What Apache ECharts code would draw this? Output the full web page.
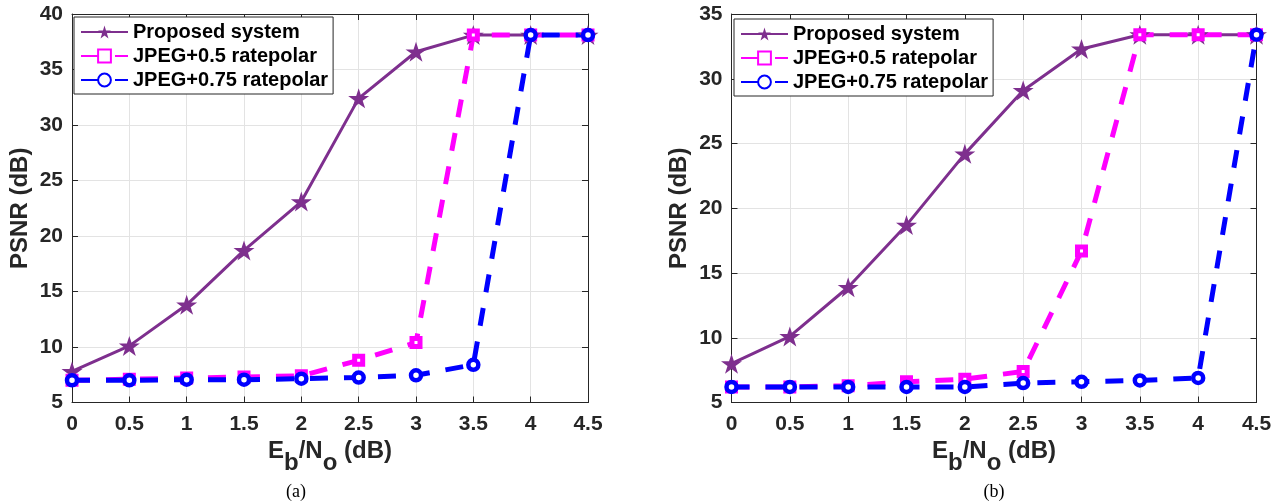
<!DOCTYPE html>
<html>
<head>
<meta charset="utf-8">
<script src="https://cdn.jsdelivr.net/npm/echarts@6/dist/echarts.min.js"></script>
<style>
  html, body { margin: 0; padding: 0; background: #fff; }
  #main { width: 1284px; height: 504px; }
</style>
</head>
<body>
<div id="main"></div>
<script type="text/javascript">
// Eb/No (dB) values on the x axis
var ebno = [0, 0.5, 1, 1.5, 2, 2.5, 3, 3.5, 4, 4.5];
var seriesNames = ['Proposed system', 'JPEG+0.5 ratepolar', 'JPEG+0.75 ratepolar'];

// panel (a)
var aProposed = [7.8, 10.1, 13.8, 18.7, 23.1, 32.4, 36.6, 38.1, 38.1, 38.1];
var aJpeg05   = [7.0, 7.1, 7.2, 7.3, 7.4, 8.8, 10.4, 38.1, 38.1, 38.1];
var aJpeg075  = [7.0, 7.0, 7.05, 7.05, 7.15, 7.25, 7.45, 8.4, 38.1, 38.1];

// panel (b)
var bProposed = [8.0, 10.1, 13.9, 18.7, 24.2, 29.1, 32.3, 33.4, 33.4, 33.4];
var bJpeg05   = [6.2, 6.2, 6.3, 6.6, 6.8, 7.4, 16.7, 33.4, 33.4, 33.4];
var bJpeg075  = [6.2, 6.2, 6.2, 6.2, 6.2, 6.5, 6.6, 6.7, 6.9, 33.4];

var yTicksA = {min: 5, max: 40, interval: 5};
var yTicksB = {min: 5, max: 35, interval: 5};

var FONT = '"Liberation Sans", Arial, sans-serif';
var INK = '#262626';
var STAR = 'path://M0,-10 L2.245,-3.09 L9.51,-3.09 L3.633,1.18 L5.88,8.09 L0,3.82 L-5.88,8.09 L-3.633,1.18 L-9.51,-3.09 L-2.245,-3.09 Z';

function pairs(ys) {
  return ebno.map(function (x, i) { return [x, ys[i]]; });
}

var dom = document.getElementById('main');
var myChart = echarts.init(dom);

var titleRich = {
  a: {fontSize: 24, fontWeight: 'bold', fontFamily: FONT, color: INK, padding: [0, 0, 12, 0], verticalAlign: 'bottom'},
  s: {fontSize: 24, fontWeight: 'bold', fontFamily: FONT, color: INK, verticalAlign: 'bottom'}
};

function xAxisPair(gi) {
  var common = {
    type: 'value', gridIndex: gi, min: 0, max: 4.5, interval: 0.5,
    axisLine: {show: true, onZero: false, lineStyle: {color: INK, width: 1}},
    axisTick: {show: true, inside: true, length: 6, lineStyle: {color: INK}}
  };
  var bottom = Object.assign({}, common, {
    position: 'bottom',
    axisLabel: {color: INK, fontSize: 21, fontWeight: 'bold', fontFamily: FONT, margin: 11},
    splitLine: {show: true, lineStyle: {color: '#e3e3e3', width: 1}},
    name: '{a|E}{s|b}{a|/N}{s|o}{a| (dB)}',
    nameLocation: 'middle',
    nameGap: 37,
    nameTextStyle: {rich: titleRich}
  });
  var top = Object.assign({}, common, {
    position: 'top', axisLabel: {show: false}, splitLine: {show: false}
  });
  return [bottom, top];
}

function yAxisPair(gi, t) {
  var common = {
    type: 'value', gridIndex: gi, min: t.min, max: t.max, interval: t.interval,
    axisLine: {show: true, onZero: false, lineStyle: {color: INK, width: 1}},
    axisTick: {show: true, inside: true, length: 6, lineStyle: {color: INK}}
  };
  var left = Object.assign({}, common, {
    position: 'left',
    axisLabel: {color: INK, fontSize: 21, fontWeight: 'bold', fontFamily: FONT, margin: 9},
    splitLine: {show: true, lineStyle: {color: '#e3e3e3', width: 1}},
    name: 'PSNR (dB)',
    nameLocation: 'middle',
    nameGap: 40,
    nameTextStyle: {color: INK, fontSize: 24, fontWeight: 'bold', fontFamily: FONT}
  });
  var right = Object.assign({}, common, {
    position: 'right', axisLabel: {show: false}, splitLine: {show: false}
  });
  return [left, right];
}

function panelSeries(axisIdx, prop, j05, j075) {
  return [{
    name: seriesNames[0], type: 'line', xAxisIndex: axisIdx, yAxisIndex: axisIdx,
    data: pairs(prop), color: '#7E2F8E',
    lineStyle: {color: '#7E2F8E', width: 3},
    symbol: STAR, symbolSize: 21, symbolKeepAspect: true,
    itemStyle: {color: '#7E2F8E', borderWidth: 0}
  }, {
    name: seriesNames[1], type: 'line', xAxisIndex: axisIdx, yAxisIndex: axisIdx,
    data: pairs(j05), color: '#FF00FF',
    lineStyle: {color: '#FF00FF', width: 5, type: [18, 16]},
    symbol: 'rect', symbolSize: 8, showAllSymbol: true,
    itemStyle: {color: '#FFFFFF', borderColor: '#FF00FF', borderWidth: 5}
  }, {
    name: seriesNames[2], type: 'line', xAxisIndex: axisIdx, yAxisIndex: axisIdx,
    data: pairs(j075), color: '#0000FF',
    lineStyle: {color: '#0000FF', width: 5, type: [18, 16]},
    symbol: 'circle', symbolSize: 10, showAllSymbol: true,
    itemStyle: {color: '#FFFFFF', borderColor: '#0000FF', borderWidth: 4.5}
  }];
}

function legendAt(left, top) {
  return {
    data: seriesNames, left: left, top: top, orient: 'vertical',
    backgroundColor: '#fff', borderColor: INK, borderWidth: 1,
    padding: [5, 5, 4, 6], itemGap: 4, itemWidth: 47, itemHeight: 16,
    textStyle: {color: '#000', fontSize: 20, fontWeight: 'bold', fontFamily: FONT, lineHeight: 20},
    selectedMode: false
  };
}

var xa = xAxisPair(0), xb = xAxisPair(1);
var ya = yAxisPair(0, yTicksA), yb = yAxisPair(1, yTicksB);

option = {
  animation: false,
  backgroundColor: '#ffffff',
  grid: [
    {left: 72, right: 696, top: 14, bottom: 101.5},
    {left: 731.5, right: 27.5, top: 14, bottom: 101.5}
  ],
  // index 0: (a) bottom/left, 1: (a) top/right, 2: (b) bottom/left, 3: (b) top/right
  xAxis: [xa[0], xa[1], xb[0], xb[1]],
  yAxis: [ya[0], ya[1], yb[0], yb[1]],
  legend: [legendAt(74, 17), legendAt(734, 19)],
  series: panelSeries(0, aProposed, aJpeg05, aJpeg075)
    .concat(panelSeries(2, bProposed, bJpeg05, bJpeg075)),
  graphic: [
    {type: 'text', x: 296, y: 492, style: {text: '(a)', align: 'center', verticalAlign: 'middle', font: '18px "Liberation Serif", "Times New Roman", serif', fill: '#000'}},
    {type: 'text', x: 994, y: 492, style: {text: '(b)', align: 'center', verticalAlign: 'middle', font: '18px "Liberation Serif", "Times New Roman", serif', fill: '#000'}}
  ]
};

if (option && typeof option === "object") {
  myChart.setOption(option, true);
}
</script>
</body>
</html>
